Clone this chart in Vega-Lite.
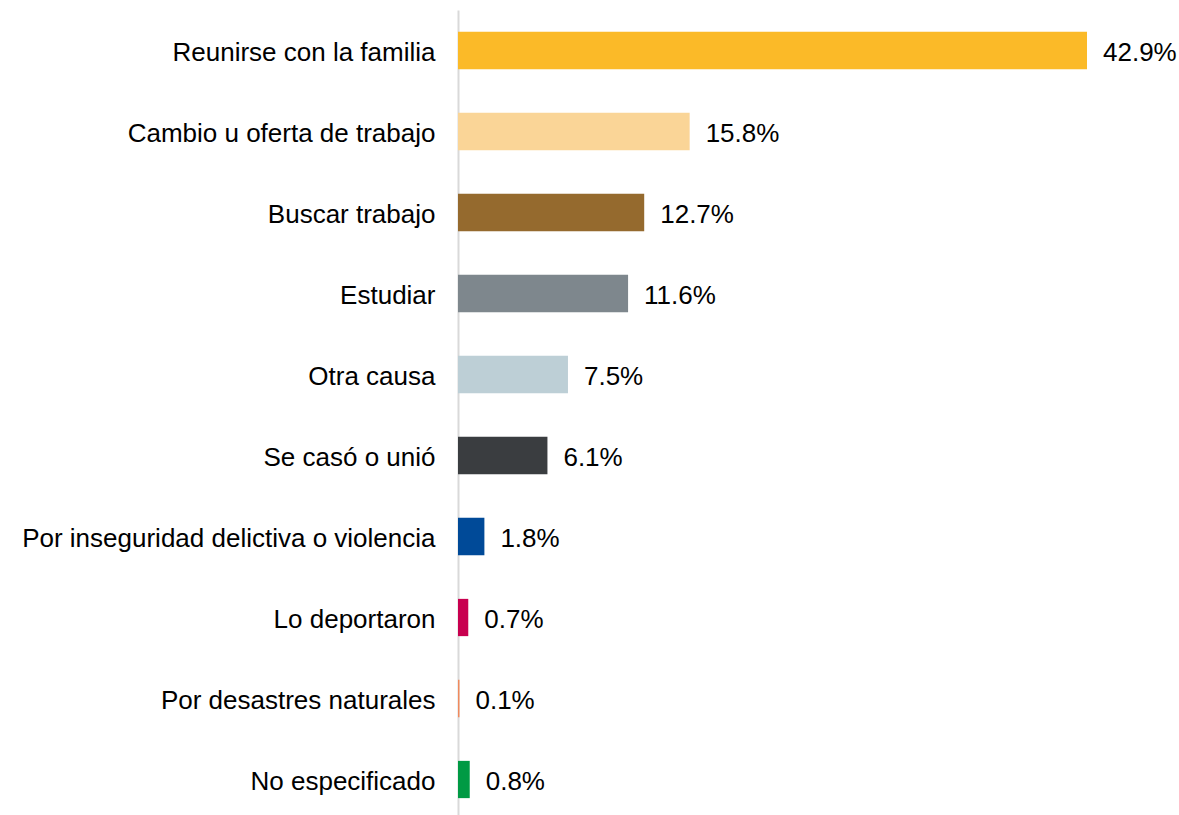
{
  "$schema": "https://vega.github.io/schema/vega-lite/v6.json",
  "width": 629,
  "height": 810,
  "autosize": {"type": "none"},
  "padding": {"left": 458, "top": 10, "right": 92, "bottom": 0},
  "background": "white",
  "config": {"view": {"stroke": null}, "font": "Liberation Sans"},
  "data": {
    "values": [
      {"causa": "Reunirse con la familia", "pct": 42.9},
      {"causa": "Cambio u oferta de trabajo", "pct": 15.8},
      {"causa": "Buscar trabajo", "pct": 12.7},
      {"causa": "Estudiar", "pct": 11.6},
      {"causa": "Otra causa", "pct": 7.5},
      {"causa": "Se casó o unió", "pct": 6.1},
      {"causa": "Por inseguridad delictiva o violencia", "pct": 1.8},
      {"causa": "Lo deportaron", "pct": 0.7},
      {"causa": "Por desastres naturales", "pct": 0.1},
      {"causa": "No especificado", "pct": 0.8}
    ]
  },
  "transform": [{"calculate": "format(datum.pct, '.1f') + '%'", "as": "label"}],
  "encoding": {
    "y": {
      "field": "causa",
      "type": "nominal",
      "sort": null,
      "scale": {"paddingInner": 0.54, "paddingOuter": 0.27},
      "axis": {
        "title": null,
        "ticks": false,
        "grid": false,
        "domain": true,
        "domainColor": "#D9D9D9",
        "domainWidth": 2,
        "labelFont": "Liberation Sans",
        "labelFontSize": 26,
        "labelColor": "#000000",
        "labelPadding": 23,
        "labelOffset": 2,
        "labelLimit": 600
      }
    },
    "x": {
      "field": "pct",
      "type": "quantitative",
      "scale": {"domain": [0, 42.9], "nice": false, "zero": true},
      "axis": null
    }
  },
  "layer": [
    {
      "mark": {"type": "bar"},
      "encoding": {
        "color": {
          "field": "causa",
          "type": "nominal",
          "legend": null,
          "scale": {
            "domain": ["Reunirse con la familia", "Cambio u oferta de trabajo", "Buscar trabajo", "Estudiar", "Otra causa", "Se casó o unió", "Por inseguridad delictiva o violencia", "Lo deportaron", "Por desastres naturales", "No especificado"],
            "range": ["#FBBA28", "#FAD597", "#956A2E", "#7E878D", "#BDCFD6", "#3A3D40", "#004A98", "#C8004F", "#F08A5D", "#009A44"]
          }
        }
      }
    },
    {
      "mark": {"type": "text", "align": "left", "baseline": "middle", "dx": 16, "dy": 2, "fontSize": 26, "font": "Liberation Sans", "color": "#000000"},
      "encoding": {"text": {"field": "label"}}
    }
  ]
}
